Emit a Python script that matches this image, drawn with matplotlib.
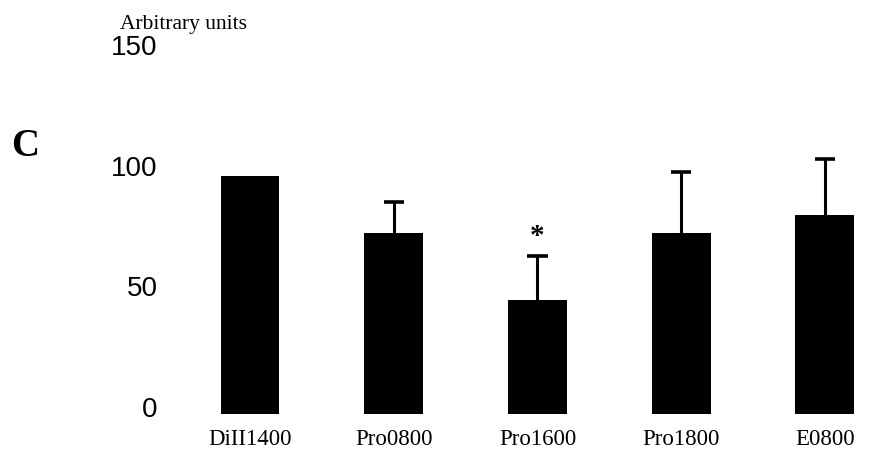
import matplotlib
matplotlib.use("Agg")
import matplotlib.pyplot as plt
import matplotlib.transforms as mtransforms
import numpy as np

categories = ["DiII1400", "Pro0800", "Pro1600", "Pro1800", "E0800"]
values = [98.6, 75, 47.2, 75, 82.5]
errors_up = [0, 12.9, 18.3, 25.3, 23.2]
significant = [False, False, True, False, False]
yticks = [0, 50, 100, 150]

fig = plt.figure(figsize=(8.91, 4.68), dpi=100)
ax = fig.add_axes([180/891, 54/468, 700/891, 362/468])

x = np.arange(len(categories))
ax.bar(x, values, width=0.41, color="black", zorder=2)

cap_half = 0.07
for xi, v, e, s in zip(x, values, errors_up, significant):
    if e > 0:
        ax.vlines(xi, v, v + e, color="black", linewidth=2.2, zorder=3)
        ax.hlines(v + e, xi - cap_half, xi + cap_half, color="black",
                  linewidth=2.6, zorder=3)
    if s:
        ax.text(xi, v + e + 8, "*", ha="center", va="center",
                fontsize=21, fontweight="bold", family="Liberation Serif")

ax.set_xlim(-0.487, 4.383)
ax.set_ylim(0, 150)
ax.set_yticks(yticks)
ax.set_yticklabels([str(t) for t in yticks], family="Liberation Sans", fontsize=20)
ax.set_xticks(x)
ax.set_xticklabels(categories, family="Liberation Serif", fontsize=16.5)
ax.tick_params(axis="both", length=0)
ax.tick_params(axis="y", pad=16)
ax.tick_params(axis="x", pad=11)
offset = mtransforms.ScaledTranslation(0, 7/100, fig.dpi_scale_trans)
for lab in ax.get_yticklabels():
    lab.set_transform(lab.get_transform() + offset)
for sp in ax.spines.values():
    sp.set_visible(False)

fig.text(120/891, 1 - 24/468, "Arbitrary units", family="Liberation Serif",
         fontsize=15.5, ha="left", va="center")
fig.text(25/891, 1 - 147/468, "C", family="Liberation Serif",
         fontsize=28, fontweight="bold", ha="center", va="center")

fig.savefig("out.png", dpi=100, facecolor="white")
